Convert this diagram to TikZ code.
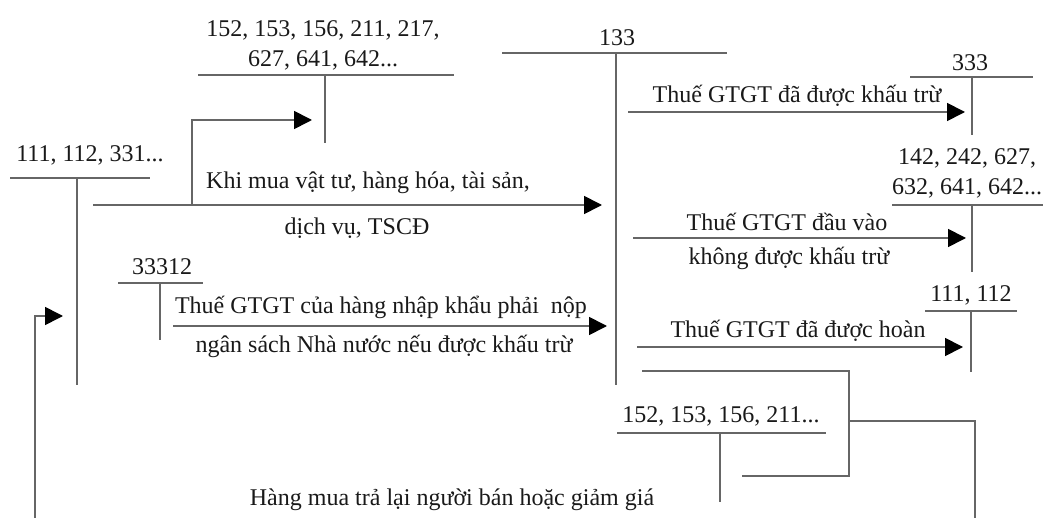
\documentclass[tikz,border=0pt]{standalone}
\usepackage{fontspec}
\setmainfont{Liberation Serif}
\usetikzlibrary{arrows.meta}

\begin{document}
\begin{tikzpicture}[x=1pt, y=-1pt, line width=1.7pt,
    every node/.style={font=\fontsize{24}{30}\selectfont, text=black!90, inner sep=0pt},
    acct/.style={align=center},
    tline/.style={draw=black!60},
    flow/.style={draw=black!60, -{Triangle[length=18pt, width=18pt, color=black]}}]
  \useasboundingbox (0,0) rectangle (1043,518);

  \node[acct] (a152) at (323,45) {152, 153, 156, 211, 217,\\627, 641, 642...};
  \draw[tline] (198,75) -- (454,75);
  \draw[tline] (325,75) -- (325,143);

  \node[acct] (a133) at (617,38) {133};
  \draw[tline] (502,53) -- (727,53);
  \draw[tline] (616,53) -- (616,385);

  \node[acct] (a333) at (970,63) {333};
  \draw[tline] (910,77) -- (1033,77);
  \draw[tline] (972,77) -- (972,135);

  \node[acct, anchor=east] (a142) at (1043,173) {142, 242, 627,\\632, 641, 642...};
  \draw[tline] (892,205) -- (1043,205);
  \draw[tline] (972,205) -- (972,272);

  \node[acct] (a111r) at (971,295) {111, 112};
  \draw[tline] (925,311) -- (1017,311);
  \draw[tline] (971,311) -- (971,372);

  \node[acct] (a111) at (90,155) {111, 112, 331...};
  \draw[tline] (10,178) -- (150,178);
  \draw[tline] (77,178) -- (77,385);

  \node[acct] (a33312) at (162,267) {33312};
  \draw[tline] (118,283) -- (203,283);
  \draw[tline] (160,283) -- (160,340);

  \node[acct] (a152r) at (721,416) {152, 153, 156, 211...};
  \draw[tline] (617,433) -- (826,433);
  \draw[tline] (720,433) -- (720,502);

  % arrows
  \coordinate (buyA) at (93,205);
  \coordinate (buyB) at (602,205);
  \coordinate (fork) at (192,205);
  \coordinate (stockIn) at (312,120);
  \coordinate (impA) at (173,326);
  \coordinate (impB) at (607,326);
  \coordinate (dedA) at (628,112);
  \coordinate (dedB) at (965,112);
  \coordinate (nodA) at (633,238);
  \coordinate (nodB) at (966,238);
  \coordinate (refA) at (637,347);
  \coordinate (refB) at (963,347);
  \coordinate (retA) at (642,371);
  \coordinate (retC) at (849,421);
  \coordinate (retB) at (742,476);
  \coordinate (retD) at (975,521);
  \coordinate (backA) at (35,521);
  \coordinate (backB) at (63,316);

  \draw[flow] (buyA) -- (buyB);
  \draw[flow] (fork) |- (stockIn);
  \draw[flow] (impA) -- (impB);
  \draw[flow] (dedA) -- (dedB);
  \draw[flow] (nodA) -- (nodB);
  \draw[flow] (refA) -- (refB);
  \draw[tline] (retA) -| (retC) |- (retB);
  \draw[tline] (retC) -| (retD);
  \draw[flow] (backA) |- (backB);

  \node (buy1) at (368,183) {Khi mua vật tư, hàng hóa, tài sản,};
  \node (buy2) at (357,228) {dịch vụ, TSCĐ};
  \node (imp1) at (381,307) {Thuế GTGT của hàng nhập khẩu phải\ \ nộp};
  \node (imp2) at (384,346) {ngân sách Nhà nước nếu được khấu trừ};
  \node (ded) at (797,96) {Thuế GTGT đã được khấu trừ};
  \node (nod1) at (787,222) {Thuế GTGT đầu vào};
  \node (nod2) at (789,258) {không được khấu trừ};
  \node (ref) at (798,331) {Thuế GTGT đã được hoàn};
  \node (ret) at (452,500) {Hàng mua trả lại người bán hoặc giảm giá};
\end{tikzpicture}
\end{document}
